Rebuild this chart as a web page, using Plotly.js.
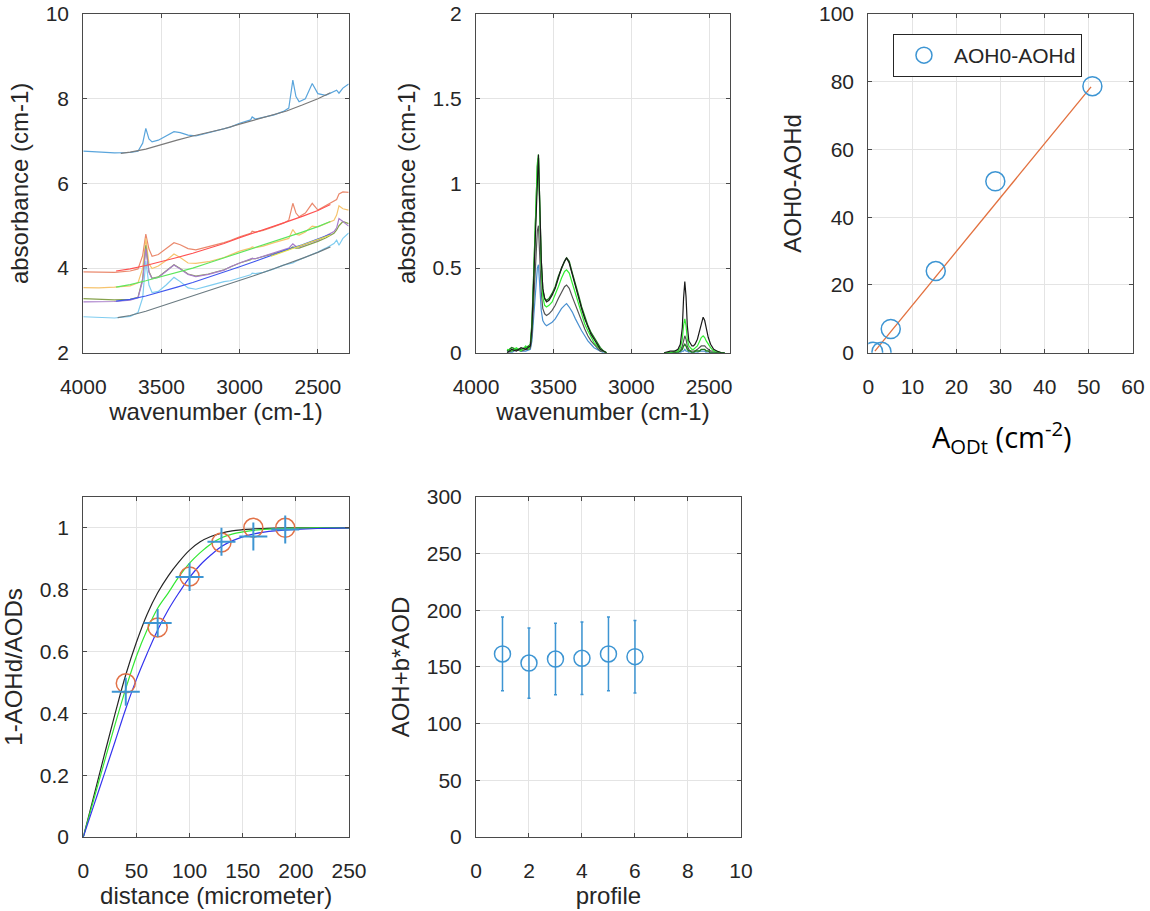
<!DOCTYPE html>
<html>
<head>
<meta charset="utf-8">
<script src="https://cdn.plot.ly/plotly-3.0.1.min.js"></script>
<style>html,body{margin:0;padding:0;background:#fff;}#chart{width:1150px;height:911px;}</style>
</head>
<body>
<div id="chart"></div>
<script>
// ---------- Panel 1: raw spectra with baselines ----------
const wn1 = [4000,3900,3800,3700,3650,3620,3600,3580,3560,3520,3470,3420,3380,3330,3280,3200,3100,3060,3000,2930,2920,2900,2850,2780,2720,2686,2660,2640,2620,2580,2536,2500,2450,2397,2380,2365,2340,2303];
const specTop = [6.76,6.74,6.72,6.73,6.76,6.95,7.30,7.05,6.98,7.02,7.12,7.22,7.20,7.14,7.12,7.20,7.29,7.33,7.42,7.50,7.57,7.52,7.56,7.62,7.70,7.78,8.44,8.05,7.93,8.00,8.36,8.12,8.08,8.17,8.20,8.13,8.25,8.35];
const specA = [3.91,3.90,3.90,3.93,3.98,4.30,4.80,4.45,4.28,4.32,4.45,4.60,4.55,4.46,4.43,4.50,4.60,4.65,4.74,4.82,4.87,4.85,4.89,4.98,5.06,5.13,5.53,5.30,5.21,5.30,5.53,5.37,5.47,5.57,5.62,5.75,5.80,5.79];
const specB = [3.54,3.53,3.55,3.58,3.65,4.00,4.70,4.10,3.99,4.05,4.18,4.33,4.25,4.12,4.11,4.15,4.25,4.31,4.40,4.47,4.50,4.48,4.52,4.60,4.66,4.70,4.91,4.80,4.78,4.85,4.99,4.97,5.05,5.13,5.25,5.47,5.40,5.37];
const specC = [3.20,3.20,3.21,3.24,3.30,3.70,4.46,3.90,3.75,3.78,3.92,4.07,3.98,3.85,3.80,3.85,3.95,4.03,4.12,4.20,4.23,4.22,4.28,4.36,4.42,4.47,4.57,4.51,4.50,4.56,4.62,4.66,4.75,4.86,4.95,5.17,5.10,4.99];
const specD = [3.28,3.27,3.25,3.26,3.31,3.75,4.54,3.92,3.76,3.79,3.93,4.08,3.99,3.86,3.81,3.86,3.96,4.03,4.12,4.20,4.23,4.22,4.27,4.34,4.40,4.44,4.50,4.47,4.47,4.52,4.58,4.63,4.71,4.82,4.90,5.00,5.10,5.05];
const specE = [2.85,2.83,2.82,2.86,2.95,3.30,4.17,3.60,3.42,3.45,3.60,3.78,3.68,3.53,3.50,3.58,3.68,3.70,3.76,3.84,3.88,3.87,3.90,3.98,4.07,4.10,4.12,4.16,4.19,4.26,4.32,4.38,4.47,4.58,4.66,4.54,4.70,4.83];

const wnBaseTop = [3760,3700,3600,3500,3400,3300,3200,3100,3000,2900,2800,2700,2600,2500,2420];
const baseTop = [6.71,6.74,6.81,6.92,7.02,7.12,7.20,7.29,7.40,7.50,7.60,7.71,7.85,8.00,8.14];
const wnBase = [3790,3700,3600,3500,3400,3300,3200,3100,3000,2900,2800,2700,2600,2500,2420];
const baseA = [3.93,3.98,4.06,4.15,4.25,4.35,4.46,4.58,4.72,4.84,4.96,5.09,5.22,5.36,5.50];
const baseB = [3.55,3.61,3.70,3.80,3.90,4.00,4.12,4.24,4.37,4.48,4.60,4.72,4.85,4.98,5.10];
const baseC = [3.22,3.26,3.34,3.44,3.55,3.66,3.78,3.90,4.03,4.16,4.30,4.43,4.55,4.68,4.80];
const wnBaseD = [2800,2700,2600,2500,2420];
const baseD = [4.28,4.41,4.53,4.66,4.78];
const wnBaseE = [3780,3700,3600,3500,3400,3300,3200,3100,3000,2900,2800,2700,2600,2500,2420];
const baseE = [2.83,2.88,2.98,3.10,3.22,3.34,3.46,3.58,3.70,3.83,3.96,4.09,4.23,4.37,4.50];

// ---------- Panel 2: baseline-corrected spectra ----------
const wn2L = [3800,3770,3740,3710,3680,3660,3650,3640,3630,3620,3612,3605,3598,3590,3580,3570,3558,3546,3530,3510,3490,3470,3450,3430,3417,3400,3380,3360,3340,3320,3300,3280,3260,3240,3220,3200,3180,3160];
const wn2R = [2790,2750,2720,2700,2685,2672,2664,2656,2648,2640,2630,2620,2610,2600,2590,2575,2560,2550,2538,2528,2518,2505,2490,2470,2450,2420,2400];
const corrBlackL = [0,0.02,0.01,0.03,0.02,0.03,0.04,0.15,0.40,0.70,0.92,1.10,1.17,0.90,0.55,0.38,0.32,0.30,0.31,0.34,0.38,0.44,0.50,0.54,0.56,0.53,0.46,0.40,0.32,0.26,0.20,0.15,0.11,0.08,0.05,0.02,0.01,0];
const corrBlackR = [0,0.01,0.01,0.02,0.05,0.15,0.32,0.42,0.33,0.16,0.07,0.05,0.04,0.04,0.05,0.08,0.14,0.18,0.21,0.19,0.15,0.09,0.05,0.02,0.01,0,0];
const corrLimeL = [0.02,0.01,0.03,0.01,0.04,0.02,0.05,0.16,0.42,0.72,0.95,1.12,1.17,0.85,0.50,0.33,0.28,0.27,0.28,0.30,0.34,0.39,0.44,0.48,0.49,0.47,0.41,0.35,0.28,0.22,0.17,0.13,0.09,0.06,0.04,0.02,0.01,0];
const corrLimeR = [0,0,0.01,0.01,0.03,0.08,0.16,0.20,0.16,0.08,0.04,0.03,0.02,0.02,0.03,0.04,0.07,0.09,0.10,0.09,0.07,0.05,0.03,0.01,0.01,0,0];
const corrGrayL = [0,0.01,0.02,0.01,0.02,0.02,0.03,0.10,0.28,0.48,0.62,0.72,0.75,0.58,0.36,0.26,0.23,0.22,0.23,0.25,0.28,0.32,0.36,0.39,0.40,0.38,0.33,0.28,0.23,0.18,0.14,0.10,0.07,0.05,0.03,0.01,0.01,0];
const corrGrayR = [0,0,0,0.01,0.01,0.04,0.08,0.10,0.08,0.04,0.02,0.01,0.01,0.01,0.01,0.02,0.03,0.04,0.04,0.04,0.03,0.02,0.01,0.01,0,0,0];
const corrBlueL = [0.01,0,0.02,0.01,0.01,0.02,0.02,0.07,0.20,0.35,0.45,0.50,0.52,0.40,0.25,0.19,0.17,0.16,0.17,0.18,0.20,0.23,0.26,0.28,0.29,0.27,0.24,0.20,0.16,0.13,0.10,0.07,0.05,0.03,0.02,0.01,0,0];
const corrBlueR = [0,0,0,0,0,0.01,0.01,0.02,0.01,0.01,0,0,0,0,0,0,0.01,0.01,0.01,0.01,0,0,0,0,0,0,0];
const corrDkGreenL = [0.01,0.03,0.02,0.02,0.03,0.04,0.05,0.17,0.42,0.72,0.93,1.10,1.15,0.88,0.54,0.37,0.32,0.31,0.32,0.35,0.39,0.45,0.50,0.54,0.56,0.54,0.47,0.41,0.34,0.27,0.21,0.16,0.12,0.09,0.06,0.03,0.01,0];
const corrDkGreenR = [0,0,0,0,0.01,0.02,0.04,0.05,0.04,0.02,0.01,0.01,0,0,0.01,0.01,0.01,0.02,0.02,0.02,0.01,0.01,0,0,0,0,0];

// ---------- Panel 3: AOH0-AOHd vs AODt ----------
const aodt = [1.1, 3.0, 5.1, 15.3, 28.8, 50.8];
const aohDiff = [0.3, 0.3, 7.0, 24.1, 50.6, 78.7];
const fitX = [1.5, 50.5];
const fitY = [0.5, 78.5];

// ---------- Panel 4: profiles ----------
const distCurve = [0,10,20,30,40,50,60,70,80,90,100,110,120,130,140,150,160,170,180,200,220,250];
const fitBlack = [0,0.133,0.268,0.40,0.525,0.63,0.72,0.79,0.845,0.89,0.928,0.955,0.972,0.983,0.99,0.994,0.997,0.998,0.999,1.0,1.0,1.0];
const fitGreen = [0,0.123,0.245,0.365,0.48,0.585,0.67,0.74,0.79,0.842,0.886,0.92,0.948,0.968,0.98,0.987,0.992,0.995,0.997,0.999,1.0,1.0];
const fitBlue = [0,0.103,0.206,0.31,0.415,0.51,0.593,0.67,0.735,0.79,0.84,0.88,0.912,0.94,0.958,0.971,0.98,0.986,0.99,0.995,0.998,1.0];
const distPts = [40, 70, 100, 130, 160, 190];
const ratioCircles = [0.497, 0.678, 0.843, 0.953, 1.0, 1.0];
const ratioCrosses = [0.47, 0.692, 0.841, 0.955, 0.972, 0.995];

// ---------- Panel 5: AOH+b*AOD per profile ----------
const profile = [1, 2, 3, 4, 5, 6];
const aohSum = [161.5, 153.5, 157.0, 157.7, 161.5, 159.1];
const aohErr = [32.5, 31.0, 31.5, 32.0, 32.5, 32.0];

// ---------- traces ----------
const traces = [];
function line(x, y, color, xa, ya, w, shape) {
  traces.push({x: x, y: y, type: 'scatter', mode: 'lines', xaxis: xa, yaxis: ya,
    line: {color: color, width: w || 1.2, shape: shape || 'linear'}, showlegend: false, hoverinfo: 'skip'});
}
// panel 1
line(wn1, specTop, '#5aa5dc', 'x', 'y');
line(wn1, specA, '#ea8a6e', 'x', 'y');
line(wn1, specB, '#f6c46e', 'x', 'y');
line(wn1, specD, '#86a24c', 'x', 'y');
line(wn1, specC, '#a87dca', 'x', 'y');
line(wn1, specE, '#80cdf0', 'x', 'y');
line(wnBaseTop, baseTop, '#7a7a7a', 'x', 'y');
line(wnBase, baseA, '#ff5050', 'x', 'y');
line(wnBase, baseB, '#5ee65e', 'x', 'y');
line(wnBase, baseC, '#4058ee', 'x', 'y');
line(wnBaseD, baseD, '#e3e040', 'x', 'y');
line(wnBaseE, baseE, '#6b7b82', 'x', 'y');
// panel 2
const wn2 = wn2L.concat([null], wn2R);
line(wn2, corrBlueL.concat([null], corrBlueR), '#4a90d0', 'x2', 'y2');
line(wn2, corrGrayL.concat([null], corrGrayR), '#555555', 'x2', 'y2');
line(wn2, corrDkGreenL.concat([null], corrDkGreenR), '#1c7a1c', 'x2', 'y2', 1.4);
line(wn2, corrLimeL.concat([null], corrLimeR), '#33ee33', 'x2', 'y2');
line(wn2, corrBlackL.concat([null], corrBlackR), '#1a1a1a', 'x2', 'y2', 1.2);
// panel 3
line(fitX, fitY, '#e2703e', 'x3', 'y3', 1.3);
traces.push({x: aodt, y: aohDiff, type: 'scatter', mode: 'markers', xaxis: 'x3', yaxis: 'y3',
  name: 'AOH0-AOHd', showlegend: true,
  marker: {symbol: 'circle-open', size: 19, color: '#3d95d3', line: {width: 1.5, color: '#3d95d3'}}});
// panel 4
line(distCurve, fitBlack, '#262626', 'x4', 'y4', 1.2, 'spline');
line(distCurve, fitGreen, '#33e833', 'x4', 'y4', 1.2, 'spline');
line(distCurve, fitBlue, '#3535ee', 'x4', 'y4', 1.2, 'spline');
traces.push({x: distPts, y: ratioCircles, type: 'scatter', mode: 'markers', xaxis: 'x4', yaxis: 'y4', showlegend: false,
  marker: {symbol: 'circle-open', size: 19, color: '#e27248', line: {width: 1.5, color: '#e27248'}}});
traces.push({x: distPts, y: ratioCrosses, type: 'scatter', mode: 'markers', xaxis: 'x4', yaxis: 'y4', showlegend: false,
  marker: {symbol: 'cross-thin-open', size: 20, color: '#3d95d3', line: {width: 2, color: '#3d95d3'}}});
// panel 5
traces.push({x: profile, y: aohSum, type: 'scatter', mode: 'markers', xaxis: 'x5', yaxis: 'y5', showlegend: false,
  error_y: {type: 'data', array: aohErr, visible: true, color: '#3d95d3', thickness: 1.5, width: 1.5},
  marker: {symbol: 'circle-open', size: 16, color: '#3d95d3', line: {width: 1.5, color: '#3d95d3'}}});

// ---------- layout ----------
const FONT = 'Liberation Sans, Arial, Helvetica, sans-serif';
function axis(domain, anchor, range, dtick, title, isY) {
  const a = {
    domain: domain, anchor: anchor, range: range, dtick: dtick, tick0: 0,
    showgrid: true, gridcolor: '#e4e4e4', gridwidth: 1, zeroline: false,
    showline: true, linecolor: '#4a4a4a', linewidth: 1, mirror: 'ticks',
    ticks: 'inside', ticklen: 4, tickcolor: '#4a4a4a', tickwidth: 1,
    ticklabelstandoff: isY ? 9 : 15,
    tickfont: {family: FONT, size: 21, color: '#262626'}
  };
  if (title) a.title = {text: title, font: {family: FONT, size: 24, color: '#262626'}, standoff: isY ? 10 : 4};
  return a;
}
const yTop = [0.6128, 0.9846];
const yBot = [0.0812, 0.4545];
const layout = {
  width: 1150, height: 911,
  margin: {l: 0, r: 0, t: 0, b: 0},
  paper_bgcolor: '#ffffff', plot_bgcolor: '#ffffff',
  font: {family: FONT, color: '#262626'},
  xaxis: axis([0.0724, 0.3032], 'y', [4000, 2303], 500, 'wavenumber (cm-1)', false),
  yaxis: axis(yTop, 'x', [2, 10], 2, 'absorbance (cm-1)', true),
  xaxis2: axis([0.4139, 0.6348], 'y2', [4000, 2365], 500, 'wavenumber (cm-1)', false),
  yaxis2: axis(yTop, 'x2', [0, 2], 0.5, 'absorbance (cm-1)', true),
  xaxis3: axis([0.7550, 0.9852], 'y3', [0, 60], 10, null, false),
  yaxis3: axis(yTop, 'x3', [0, 100], 20, 'AOH0-AOHd', true),
  xaxis4: axis([0.0724, 0.3035], 'y4', [0, 250], 50, 'distance (micrometer)', false),
  yaxis4: axis(yBot, 'x4', [0, 1.1], 0.2, '1-AOHd/AODs', true),
  xaxis5: axis([0.4139, 0.6443], 'y5', [0, 10], 2, 'profile', false),
  yaxis5: axis(yBot, 'x5', [0, 300], 50, 'AOH+b*AOD', true),
  showlegend: true,
  legend: {x: 0.7765, y: 0.9627, xanchor: 'left', yanchor: 'top', bgcolor: '#ffffff',
    bordercolor: '#262626', borderwidth: 1, itemwidth: 50,
    font: {family: FONT, size: 21, color: '#262626'}},
  annotations: [{
    xref: 'paper', yref: 'paper', x: 1002 / 1150, y: 1 - 437 / 911, xanchor: 'center', yanchor: 'middle',
    showarrow: false, text: 'A<sub>ODt</sub> (cm<sup>-2</sup>)',
    font: {family: 'Open Sans, Noto Sans, sans-serif', size: 29, color: '#000000'}
  }]
};
Plotly.newPlot('chart', traces, layout, {displayModeBar: false, staticPlot: true});
</script>
</body>
</html>
